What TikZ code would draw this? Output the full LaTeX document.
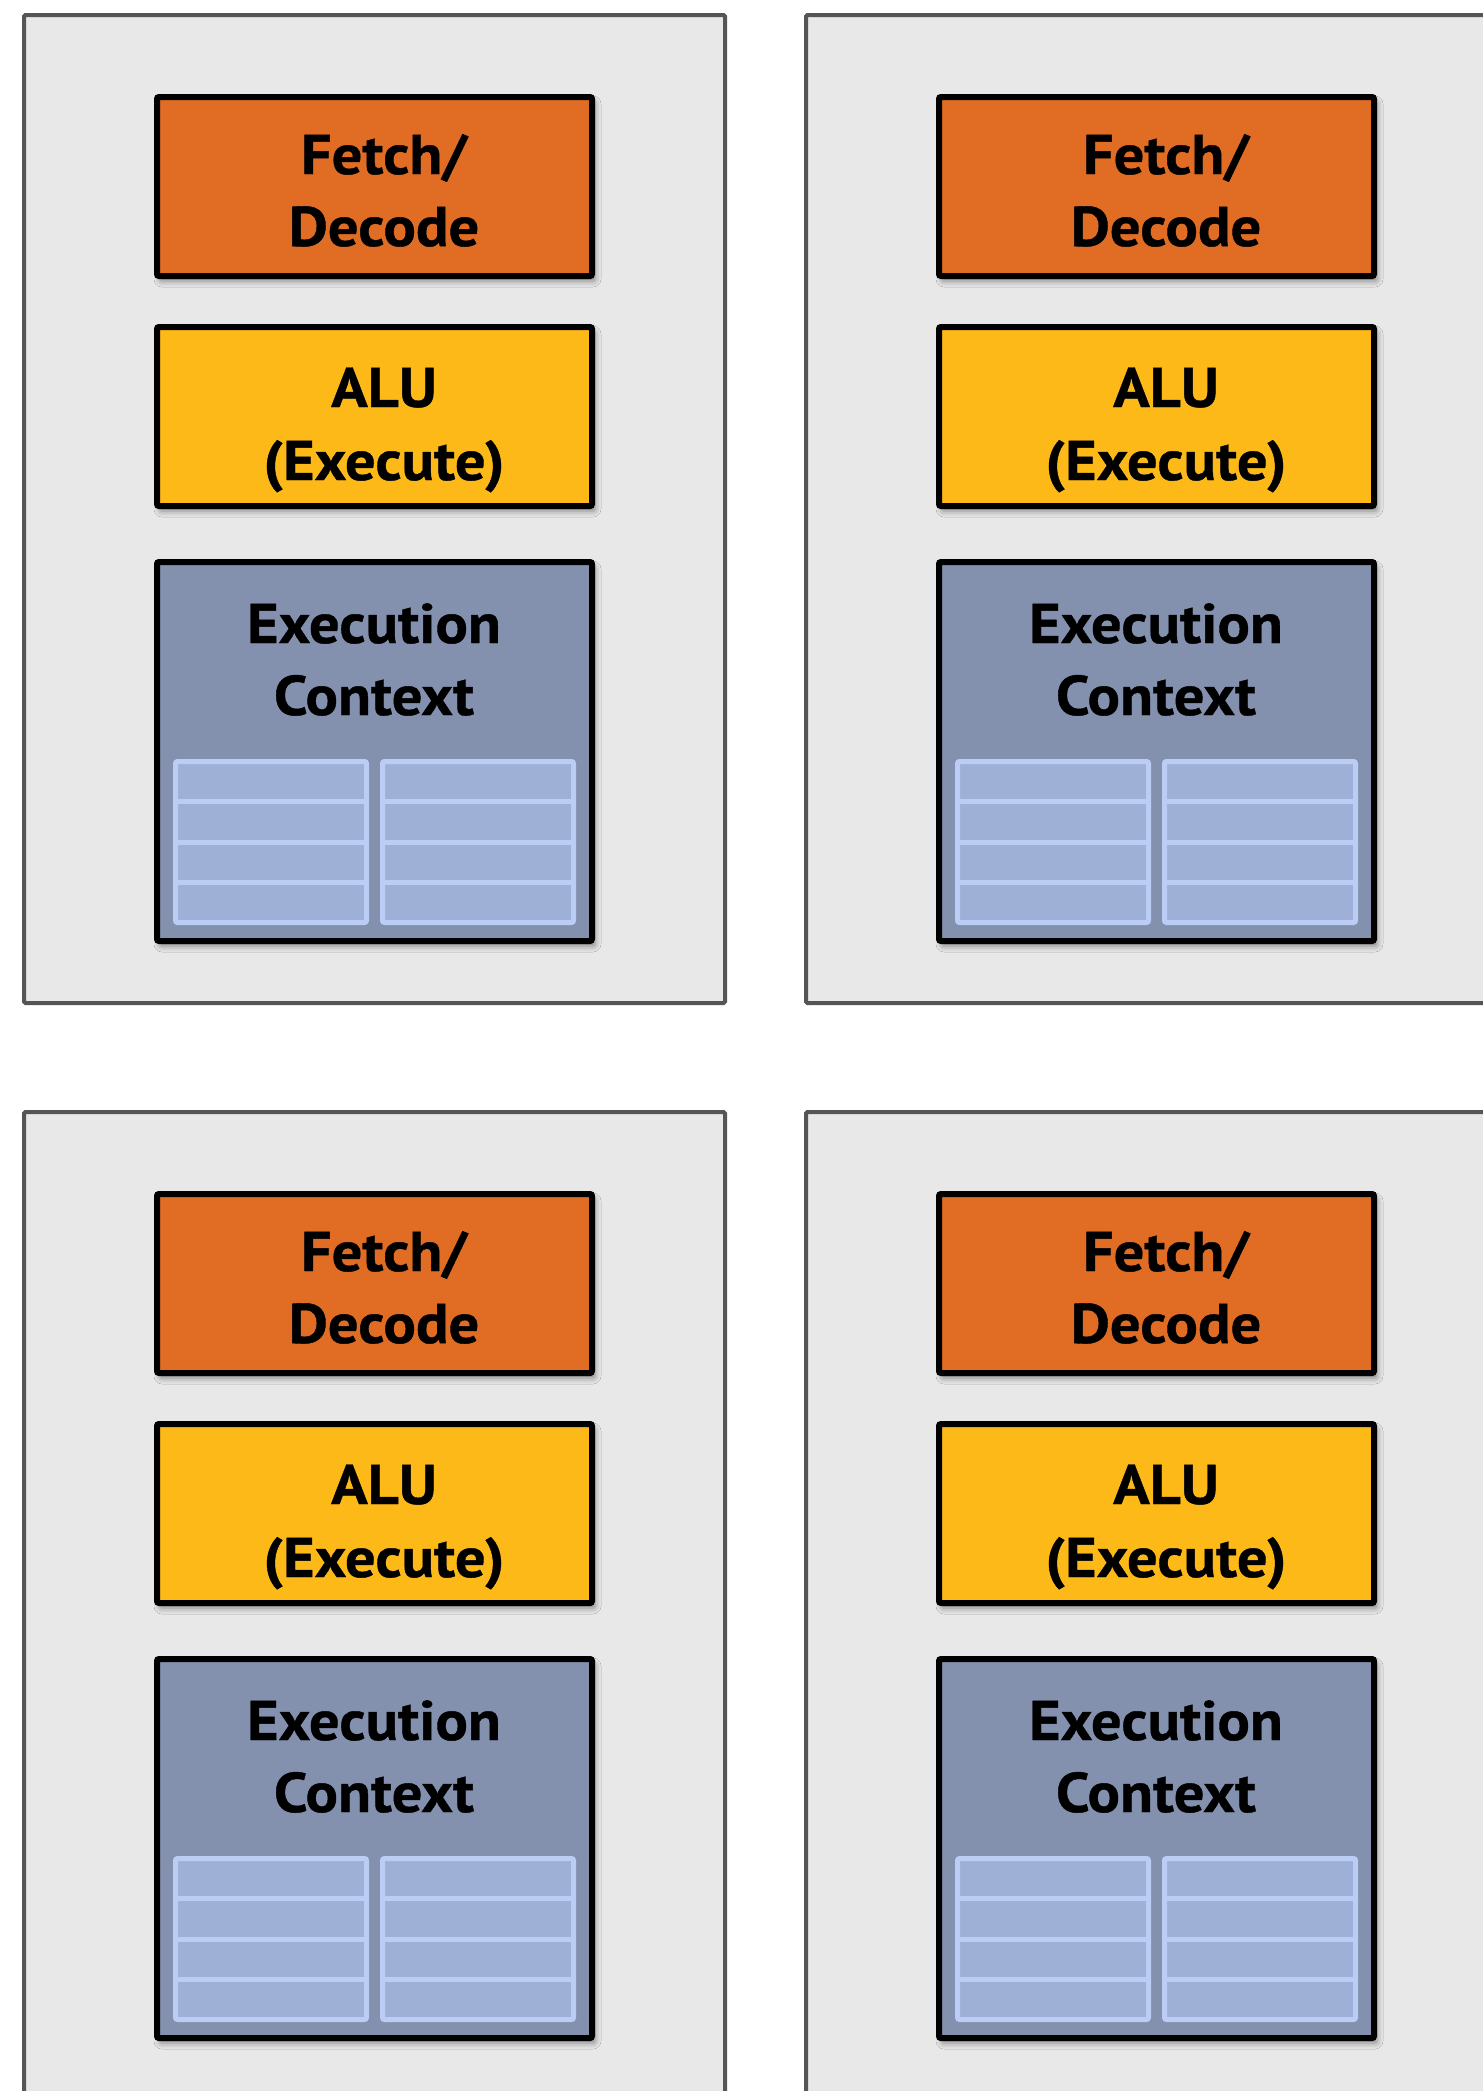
\documentclass[tikz,border=0pt]{standalone}
\usepackage{fontspec}
\setmainfont{PT Sans}[BoldFeatures={FakeStretch=1.08, FakeBold=0.7}]
\usetikzlibrary{shadows.blur}

\definecolor{chipbg}{HTML}{E8E8E8}
\definecolor{chipedge}{HTML}{555555}
\definecolor{fetchfill}{HTML}{E16C24}
\definecolor{alufill}{HTML}{FDB918}
\definecolor{ctxfill}{HTML}{8391AE}
\definecolor{regfill}{HTML}{9EB0D5}
\definecolor{regedge}{HTML}{BBCCF5}

\tikzset{
  chip/.style={draw=chipedge, fill=chipbg, line width=4pt, rounded corners=1.5pt,
    outer sep=0pt, inner sep=0pt, minimum width=701pt, minimum height=988pt},
  unitbox/.style={draw=black, line width=6pt, rounded corners=2pt, outer sep=0pt,
    inner sep=0pt, minimum width=435pt,
    blur shadow={shadow xshift=3pt, shadow yshift=-5pt, shadow blur radius=6pt, shadow opacity=45}},
  lbl/.style={anchor=base, inner sep=0pt, outer sep=0pt,
    font=\fontsize{56}{72}\selectfont\bfseries},
  regcol/.style={draw=regedge, fill=regfill, line width=5pt, rounded corners=2pt,
    outer sep=0pt, inner sep=0pt, minimum width=191pt, minimum height=161pt},
  regline/.style={draw=regedge, line width=5pt},
}

% One core: frame, fetch/decode unit, ALU, execution context with two register banks
\newcommand\drawcore[2]{%
  \begin{scope}[shift={#2}, name prefix=#1-]
    \node[chip] (frame) at (374.5,509) {};
    \node[unitbox, fill=fetchfill, minimum height=179pt] (fetch) at (374.5,186.5) {};
    \node[lbl] (fetchA) at (384,174) {Fetch/};
    \node[lbl] (fetchB) at (384,246) {Decode};
    \node[unitbox, fill=alufill, minimum height=179pt] (alu) at (374.5,416.5) {};
    \node[lbl] (aluA) at (384,407) {ALU};
    \node[lbl] (aluB) at (384,480) {(Execute)};
    \node[unitbox, fill=ctxfill, minimum height=379pt] (ctx) at (374.5,751.5) {};
    \node[lbl] (ctxA) at (374,643) {Execution};
    \node[lbl] (ctxB) at (374,715) {Context};
    \foreach \c/\cx in {L/271, R/478} {
      \node[regcol] (reg\c) at (\cx,842) {};
      \foreach \k in {1,2,3} {
        \draw[regline] ([yshift=-\k*40.25pt]reg\c.north west) -- ([yshift=-\k*40.25pt]reg\c.north east);
      }
    }
  \end{scope}}

\begin{document}
\begin{tikzpicture}[x=1pt, y=-1pt]
  \useasboundingbox (0,0) rectangle (1483,2091);
  \clip (0,0) rectangle (1483,2091);
  \fill[white] (0,0) rectangle (1483,2091);
  \drawcore{c1}{(0,0)}
  \drawcore{c2}{(782,0)}
  \drawcore{c3}{(0,1097)}
  \drawcore{c4}{(782,1097)}
\end{tikzpicture}
\end{document}
